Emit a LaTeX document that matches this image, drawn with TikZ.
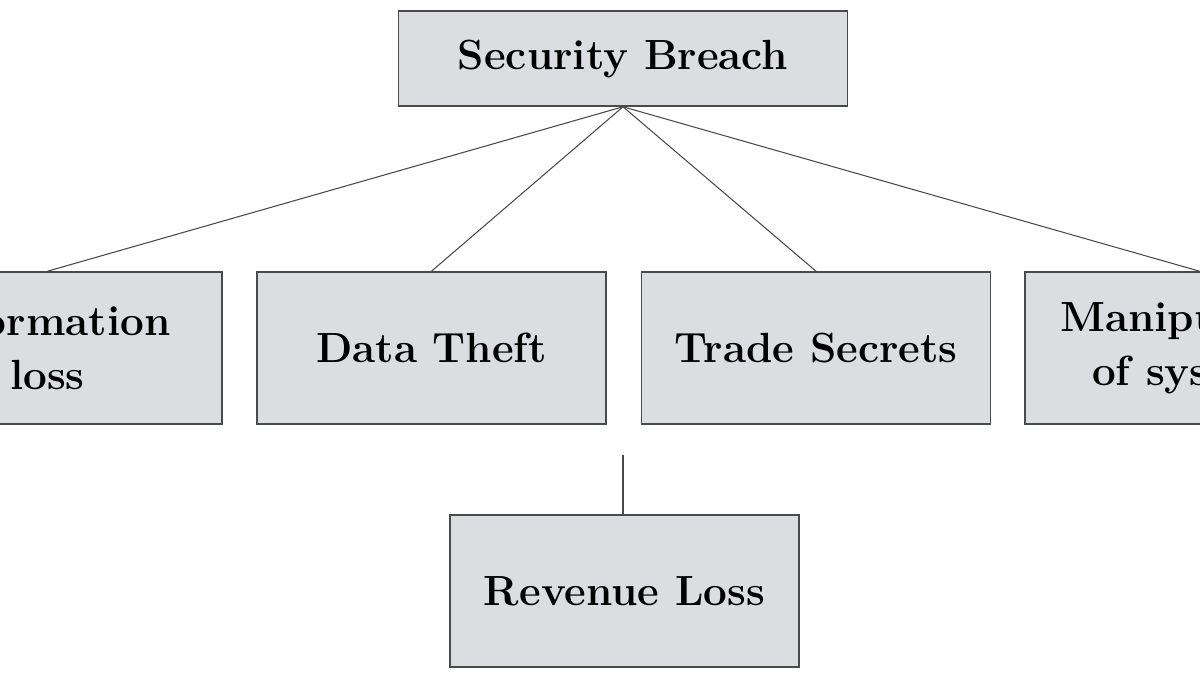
\documentclass[tikz,border=0pt]{standalone}
\usepackage{tikz}
\definecolor{boxfill}{HTML}{DCDDE0}
\definecolor{boxline}{HTML}{4A4A4A}

\begin{document}
\begin{tikzpicture}[x=0.025cm, y=-0.025cm]
				\tikzstyle{every node}=[inner sep=1pt, align=center, font=\fontsize{30}{38}\selectfont\bfseries]
				\tikzstyle{box}=[draw=boxline, fill=boxfill, line width=1.1pt, minimum width=8.725cm, minimum height=3.8cm]
				\clip (0, 0) rectangle (1200, 675);
				\node[box, minimum width=11.225cm, minimum height=2.375cm] (SB) at (623, 58.5) {Security Breach};
				\node[box] (IL) at (47.5, 348) {Information\\loss};
				\node[box] (DT) at (431.5, 348) {Data Theft};
				\node[box] (TS) at (816, 348) {Trade Secrets};
				\node[box] (MS) at (1199.5, 348) {Manipulation\\of systems};
				\node[box] (RL) at (624.5, 591) {Revenue Loss};
				\coordinate (R) at (623, 455);
				\draw [boxline, line width=0.75pt] (SB.south) -- (IL.north);
				\draw [boxline, line width=0.75pt] (SB.south) -- (DT.north);
				\draw [boxline, line width=0.75pt] (SB.south) -- (TS.north);
				\draw [boxline, line width=0.75pt] (SB.south) -- (MS.north);
				\draw [boxline, line width=0.75pt] (R) -- (R |- RL.north);
		\end{tikzpicture}
\end{document}
